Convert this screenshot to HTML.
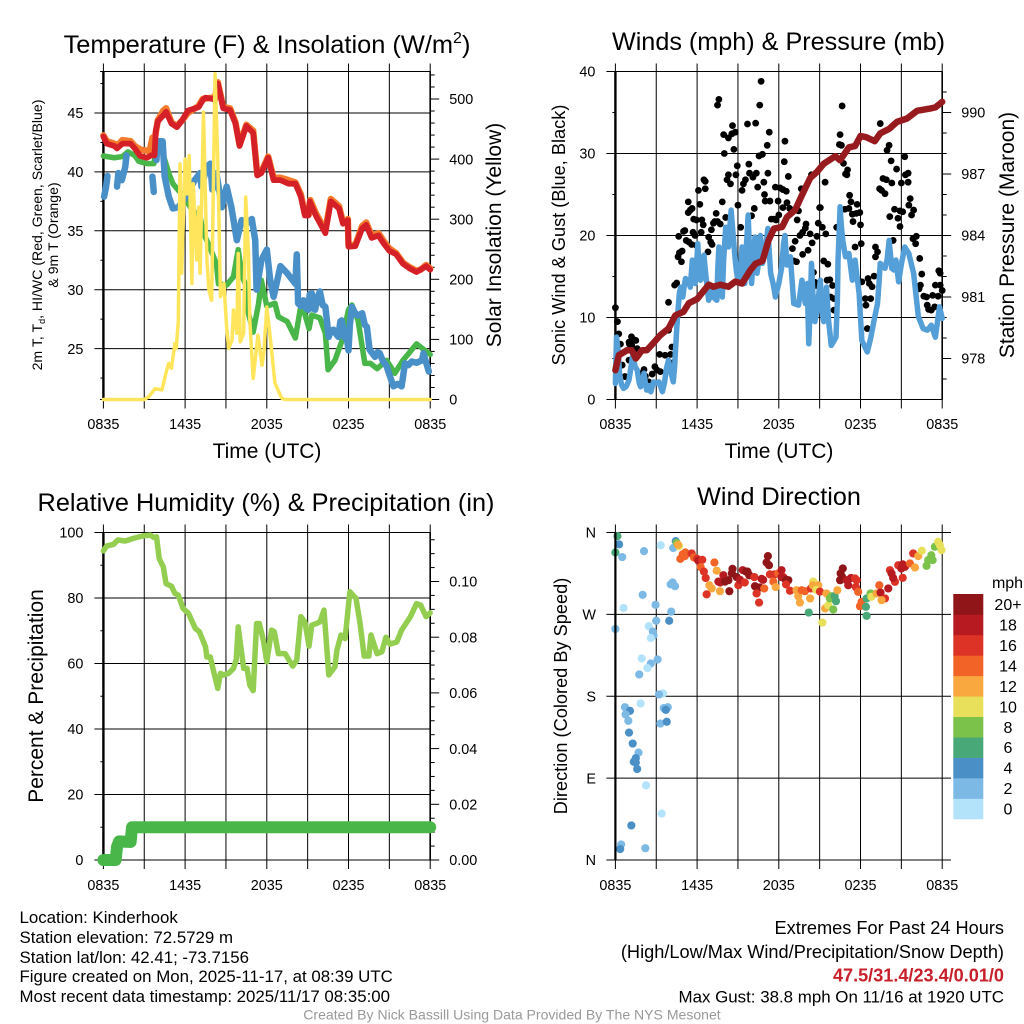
<!DOCTYPE html>
<html lang="en">
<head>
<meta charset="utf-8">
<title>Kinderhook Mesonet Meteogram</title>
<style>
html,body{margin:0;padding:0;background:#fff;}
svg{display:block;}
text{font-family:"Liberation Sans",sans-serif;fill:#000;}
</style>
</head>
<body>
<svg id="chart" xmlns="http://www.w3.org/2000/svg" width="1024" height="1024" viewBox="0 0 1024 1024">
<rect width="1024" height="1024" fill="#fff"/>
<text x="267" y="53" font-size="25.4" text-anchor="middle">Temperature (F) &amp; Insolation (W/m<tspan font-size="16" dy="-10">2</tspan><tspan dy="10">)</tspan></text>
<text x="778.5" y="50" font-size="25.2" text-anchor="middle">Winds (mph) &amp; Pressure (mb)</text>
<text x="266" y="511" font-size="25.3" text-anchor="middle">Relative Humidity (%) &amp; Precipitation (in)</text>
<text x="779" y="505" font-size="25.2" text-anchor="middle">Wind Direction</text>
<text x="267" y="458" font-size="21" text-anchor="middle">Time (UTC)</text>
<text x="779" y="458" font-size="21" text-anchor="middle">Time (UTC)</text>
<text transform="translate(42,235) rotate(-90)" font-size="14.1" text-anchor="middle">2m T, T<tspan font-size="9" dy="3">d</tspan><tspan dy="-3">, HI/WC (Red, Green, Scarlet/Blue)</tspan></text>
<text transform="translate(58,235) rotate(-90)" font-size="14.1" text-anchor="middle">&amp; 9m T (Orange)</text>
<text transform="translate(501,235) rotate(-90)" font-size="21" text-anchor="middle">Solar Insolation (Yellow)</text>
<text transform="translate(565,235) rotate(-90)" font-size="18.2" text-anchor="middle">Sonic Wind &amp; Gust (Blue, Black)</text>
<text transform="translate(1014,235) rotate(-90)" font-size="21" text-anchor="middle">Station Pressure (Maroon)</text>
<text transform="translate(43,696) rotate(-90)" font-size="21" text-anchor="middle">Percent &amp; Precipitation</text>
<text transform="translate(567,696) rotate(-90)" font-size="18.2" text-anchor="middle">Direction (Colored By Speed)</text>
<g font-size="16.85">
<text x="19.5" y="923">Location: Kinderhook</text>
<text x="19.5" y="943">Station elevation: 72.5729 m</text>
<text x="19.5" y="963">Station lat/lon: 42.41; -73.7156</text>
<text x="19.5" y="982">Figure created on Mon, 2025-11-17, at 08:39 UTC</text>
<text x="19.5" y="1002">Most recent data timestamp: 2025/11/17 08:35:00</text>
</g>
<g text-anchor="end">
<text x="1004" y="934" font-size="18.2">Extremes For Past 24 Hours</text>
<text x="1004" y="958" font-size="18.2">(High/Low/Max Wind/Precipitation/Snow Depth)</text>
<text x="1004" y="981.5" font-size="18.1" font-weight="bold" style="fill:#c8202a">47.5/31.4/23.4/0.01/0</text>
<text x="1004" y="1002.5" font-size="16.9">Max Gust: 38.8 mph On 11/16 at 1920 UTC</text>
</g>
<text x="512" y="1019.5" font-size="14.05" text-anchor="middle" style="fill:#999">Created By Nick Bassill Using Data Provided By The NYS Mesonet</text>
</svg>
<script>
const timeTicks = [0, 3, 6, 9, 12, 15, 18, 21, 24];
const timeLabels = ["0835", "", "1435", "", "2035", "", "0235", "", "0835"];

const tempTicks = [25, 30, 35, 40, 45];
const tempMinorTicks = [22.5, 27.5, 32.5, 37.5, 42.5, 47.5];
const solarTicks = [0, 100, 200, 300, 400, 500];
const solarMinorTicks = [20, 40, 60, 80, 120, 140, 160, 180, 220, 240, 260, 280, 320, 340, 360, 380, 420, 440, 460, 480, 520, 540];
const windTicks = [0, 10, 20, 30, 40];
const windMinorTicks = [5, 15, 25, 35];
const pressureTicks = [978, 981, 984, 987, 990];
const pressureMinorTicks = [977, 979, 980, 982, 983, 985, 986, 988, 989, 991];
const humidityTicks = [0, 20, 40, 60, 80, 100];
const humidityMinorTicks = [10, 30, 50, 70, 90];
const precipTicks = [0, 0.02, 0.04, 0.06, 0.08, 0.10];
const precipTickLabels = ["0.00", "0.02", "0.04", "0.06", "0.08", "0.10"];
const precipMinorTicks = [0.005, 0.01, 0.015, 0.025, 0.03, 0.035, 0.045, 0.05, 0.055, 0.065, 0.07, 0.075, 0.085, 0.09, 0.095, 0.105, 0.11, 0.115];
const directionTicks = [360, 270, 180, 90, 0];
const directionLabels = ["N", "W", "S", "E", "N"];
const legendLabels = ["0", "2", "4", "6", "8", "10", "12", "14", "16", "18", "20+"];
const legendColors = ["#b3e3fa", "#7db9e5", "#4a90c6", "#49a878", "#7ac24a", "#e8e05a", "#f8a83f", "#f26328", "#dd3327", "#b71b21", "#8f1518"];

const redTimes = [0,.25,.8,1,1.4,2,2.3,2.7,3.2,3.5,3.75,3.85,4,4.4,4.6,5,5.4,5.8,6.2,7,7.3,7.5,8,8.2,8.4,8.8,9.3,9.7,10,10.5,11,11.3,11.6,12.1,12.5,13,13.6,14.1,14.5,14.8,15.05,15.15,15.6,16.3,16.7,17.3,17.6,17.95,18,18.5,19,19.3,19.7,20.2,20.6,21,21.5,22,22.5,23,23.3,23.7,24];
const redValues = [43,42.4,42.2,42,42.4,42.4,42,41.35,41.2,41.4,41.4,43.5,44.3,44.8,45.1,44.1,43.8,44.4,45.2,45.5,46.1,46.3,46.2,46.1,47.5,45.4,45.25,44.1,42.2,43.9,43.3,39.7,39.9,41.2,39.3,39.3,39,39,37.9,36.3,36.3,37.5,36.3,34.8,37.5,36.9,35.6,35.9,33.65,33.7,35.2,35.5,34.4,34.6,33.9,33.3,33,32.2,31.8,31.5,31.7,32,31.7];
const orangeTimes = [0,.25,.8,1,1.4,2,2.3,2.7,3.2,3.4,3.6,3.8,4,4.4,4.6,5,5.4,5.8,6.2,7,7.3,8,8.2,8.4,8.8,9.3,9.7,10,10.5,11,11.3,11.6,12.1,12.5,13,13.6,14.1,14.5,14.8,15.1,15.2,15.6,16.3,16.7,17.3,17.6,17.95,18,18.5,19,19.3,19.7,20.2,20.6,21,21.5,22,22.5,23,23.3,23.7,24];
const orangeValues = [43.1,42.6,42.4,42.2,42.7,42.6,42.2,41.9,41.8,41.8,42.9,43,44.4,45.2,45.4,44.2,43.9,44.4,45,45.6,46.2,46.3,46.3,47.6,45.5,45.4,44.2,42.3,44,43.5,39.8,40,41.3,39.5,39.5,39.3,39.1,38.1,36.4,36.4,37.6,36.5,35,37.7,37.1,35.7,36,33.8,33.8,35.4,35.7,34.6,34.8,34.1,33.5,33.1,32.3,31.9,31.6,31.7,32.1,31.8];
const dewTimes = [0,.8,1.4,1.8,2.3,2.6,3.2,3.7,4,4.3,4.8,5.1,5.9,6.5,7.1,7.35,7.8,8.3,8.45,9.06,9.55,9.9,10.2,10.5,10.65,11,11.4,11.6,12,12.6,12.85,13.5,14.1,14.45,14.7,15.1,15.3,15.9,16.3,16.5,17,17.5,18,18.25,18.7,19.2,19.6,20.1,20.8,21.4,22,23,24];
const dewValues = [41.35,41.2,41.3,41.7,41.4,40.9,40.7,40.7,42.6,41.8,39.9,39,37.9,36.8,36.2,34.8,33.65,32.2,30.5,30.4,31.1,33.4,31.1,30.3,28,26.4,28.85,30.8,28.6,28.85,27.7,27.3,25.9,28.3,28.3,26.7,27.85,27.6,26.3,23.2,24,25.6,28.3,28.7,27.4,23.75,23.75,23.3,24,22.9,24,25.4,24.5];
const chillTimes = [.05,.2,.3,.6,1,1.1,1.35,1.6,1.7,2.5,3.6,3.7,3.8,3.9,3.95,4.35,4.5,4.8,5.1,5.5,5.9,6.25,6.7,7.1,7.2,7.6,7.85,8,8.3,8.7,9.05,9.4,9.8,10.15,10.5,10.9,11.15,11.25,11.6,12,12.25,12.5,13,13.5,14.1,14.2,14.3,14.5,14.7,14.9,15.05,15.15,15.3,15.4,15.55,15.7,15.9,16.1,16.3,16.45,16.55,16.7,16.9,17.05,17.25,17.4,17.5,17.7,17.9,18,18.1,18.25,18.5,18.7,19,19.2,19.35,19.55,19.95,20.15,20.3,20.5,20.8,21,21.3,21.6,21.9,22.15,22.4,22.65,23,23.4,23.5,23.9];
const chillValues = [37.9,38.75,39.65,null,38.75,39.9,39.3,40.4,41.4,null,39.6,38.3,null,41,42.6,42.6,39.6,37.9,36.9,37,37.6,38.2,39.3,39.9,38.75,40.45,40.7,38.5,39.9,37,38.75,37,34.2,35.9,35.6,36,34.2,30,32.5,33.4,30.8,29.4,32,31.4,30.5,33,28.85,28.6,29.1,28.4,28.3,29.6,29.7,28.4,28.3,29.3,29.85,28.7,28.55,27,26,26.5,26.6,26.3,26,27.3,27.4,26,25.7,24.85,27,28.55,28,27.8,28,27,26.85,24.9,24.3,24.7,24.6,24,23.5,22.8,21.8,22,21.8,23.75,23.6,23.9,23.8,24,24.6,23.05];
const solarTimes = [0,3,3.3,3.8,4.3,4.65,4.8,5,5.25,5.35,5.5,5.63,5.75,6,6.15,6.3,6.5,6.6,6.85,7,7.1,7.35,7.6,7.75,7.95,8.2,8.4,8.6,8.85,9.05,9.2,9.45,9.55,9.8,9.9,10.05,10.3,10.45,10.65,10.75,11,11.35,11.65,11.8,12,12.25,12.6,13.1,13.35,24];
const solarValues = [0,0,4,18,16,49,60,52,93,85,130,392,210,400,342,406,193,359,232,320,210,478,232,182,165,542,398,171,193,121,85,99,149,110,243,96,110,337,243,132,35,107,57,82,154,104,27,2,0,0];

const gustTimes = [0,.15,.25,.37,.5,.7,1,1.03,1.18,1.35,1.5,1,1.2,1.6,2.1,1.95,2.2,2.45,2.7,2.9,3.05,3.3,3.25,3.65,4.05,4.15,4.25,3.9,3.9,4.35,4.5,4.6,4.9,4.7,4.85,4.65,5,5.1,5.2,5.4,5.6,5.35,5.35,5.5,5.63,5.75,5.95,5.7,5.85,5.95,6.1,6.2,6.3,6.35,6.45,6.5,6.6,6.6,6.8,6.85,7,7.1,7.05,7.2,7.4,7.3,7.5,7.7,7.5,7.6,7.85,8.1,7.95,8,8.2,8.3,8.3,8.45,8.55,8.6,8.8,8.7,8.85,8.95,9,9.2,9.3,9.4,9.55,9.7,9.8,9.85,10.1,10,10.2,10.35,10.3,10.45,10.55,10.8,10.6,10.7,10.9,10.95,11,11.15,11.2,11.3,11.35,11.45,11.65,11.8,11.75,11.95,12,12.1,12.3,12.3,12.45,12.4,12.55,12.6,12.7,12.8,13,13.1,13.3,13.2,13.35,13.45,13.55,13.65,13.75,13.75,13.95,14,14.15,14.3,14.4,14.45,14.55,14.65,14.75,14.8,14.9,15,15.05,15.2,15.4,15.45,15.3,15.6,15.55,15.75,15.8,15.95,16.05,16.05,16.25,16.45,16.5,16.6,16.65,16.75,16.9,17,17.05,16.85,17.15,17.2,17.3,17.45,17.4,17.7,17.75,17.95,18,17.6,18.05,18.1,18.35,18.4,18.5,18.55,18.65,18.75,18.85,19,19.1,19.1,19.25,19.45,19.4,19.55,19.65,19.8,19.9,19.95,20.1,20.25,20.15,20.3,20.4,20.5,20.65,20.75,20.9,20.9,21,21.1,21.25,21.3,21.5,21.5,21.55,21.65,21.75,21.9,21.85,22.05,22.1,22.35,22.3,22.4,22.5,22.65,22.85,22.9,23,23.2,23.3,23.45,23.5,23.7,23.75,23.85,23.85,24];
const gustValues = [11.2,9.5,8,6.75,4.2,2.8,4.8,6.75,7.65,7.3,7.2,7,6.6,6.2,3.65,3.2,2.85,2.15,3.1,4,3.6,3.4,5.5,5.4,5.5,6.4,4.5,8.45,11.85,13.95,14.2,17.4,18.1,17.9,16.8,19.9,20.5,20.6,19.4,19.2,18.9,24.1,22.8,23.1,23.3,22,21.9,20.4,20,18.8,25.5,23.8,20.4,21.9,21.3,26.8,26.6,25.7,18,19.8,19.2,18.9,20.7,21.5,22.7,21.7,21.7,21.4,35.9,36.6,24.1,22.2,32.3,30,26.8,27.4,31.9,26.3,32.4,33.4,32.6,30.5,27.4,28.5,23.7,21,25.5,26.3,26.8,33.6,28.7,27.6,27.1,22.4,23.3,27.6,33.7,25.9,29.7,29.9,35.9,38.8,26.5,25,24.2,31,27.6,32.6,24.2,22,22,21.9,25.9,24.2,22.5,25.8,25.6,23.4,31.5,29,25.4,24,27.2,23.3,18.4,16.9,16.8,19.3,21.9,23,20,25.7,20.4,17.7,20.9,21.4,18.2,20.2,27.4,19.1,15.5,14.3,13.9,19.9,21.5,23.4,23.4,21,26.5,20.2,16.9,16.5,14.55,14.6,12.5,13.9,12.3,10.9,21,31.1,32.3,31,35.8,28.8,27.5,27.4,28,23.2,23.3,24.9,24.1,21.7,22.6,22.7,23.8,22.8,21.3,18.6,19,14.35,12.3,11.5,8.65,14.75,14.15,12.3,13.75,15.05,18.6,17.4,18,33.65,25.7,25.5,26.95,25.1,26.8,30.4,31,29.1,22.3,26.4,19.4,23.2,28.1,22.1,23,21.1,26.4,22.9,29.6,27.4,27.6,26.5,23.7,24.5,22.5,23.1,19.6,19,19.9,17.2,13.5,13.95,15.3,12.6,12.5,11.5,11,10.9,12.7,11.3,13.95,12.6,15.7,15.4,13.95,13.3];
const sonicTimes = [0,.08,.2,.3,.45,.6,.8,1,1.15,1.25,1.35,1.45,1.6,1.75,1.85,2,2.1,2.2,2.3,2.45,2.6,2.8,3,3.2,3.45,3.6,3.75,3.9,4.05,4.25,4.35,4.4,4.5,4.6,4.7,4.8,4.95,5.05,5.15,5.35,5.5,5.58,5.65,5.75,5.85,5.95,6.05,6.15,6.25,6.4,6.5,6.65,6.85,7.1,7.25,7.45,7.52,7.6,7.7,7.85,7.95,8.1,8.2,8.3,8.4,8.5,8.65,8.8,8.9,9.05,9.2,9.3,9.4,9.5,9.6,9.75,9.85,10,10.12,10.25,10.4,10.55,10.65,10.8,11,11.2,11.3,11.4,11.6,11.75,12,12.2,12.35,12.45,12.6,12.85,13,13.1,13.45,13.7,13.95,14.1,14.15,14.2,14.3,14.4,14.5,14.65,14.8,15.05,15.15,15.3,15.4,15.5,15.65,15.85,16,16.2,16.3,16.35,16.45,16.5,16.6,16.7,16.9,17.15,17.4,17.6,17.9,18,18.1,18.3,18.5,18.75,19,19.25,19.35,19.45,19.8,19.95,20.1,20.3,20.45,20.6,20.8,21,21.25,21.55,21.9,22.25,22.6,22.9,23.2,23.5,23.8,24];
const sonicValues = [1.95,7.6,6,3.2,1.8,1.35,1.6,2.4,4,5.2,4.8,4,3.6,2,1.55,2.2,3.2,2,1.15,1.7,.95,2.15,2,2.15,.95,2,3.8,4.8,3.5,2.15,4,5.6,8.5,10.9,13,13.7,12.5,13.8,14.75,14.5,13.7,15.5,17,15,14.15,16,19,16,14.55,15,17.6,15,12.1,13.3,12.4,12.1,16,18.6,15,12.5,17,21,19.5,18.6,21,23.1,20,17,15.5,14.15,16,18.6,16,14.15,18,22.5,18,14.15,17,19.8,15.4,17,20,16.6,18,20.85,18,15.4,14,12.5,14.15,16,19,20,16.4,17.4,14,11.7,11.5,14.55,11.7,14.15,10,6.8,11,16.6,13,9.5,10.9,14.55,11,9.5,11,13.7,9.7,6.6,7,7.6,12,17,21,23.5,21,19.4,17.4,17.8,14.55,17,12.9,10,7.2,6.5,5.8,7.5,9.7,11.7,14,16.6,16,17,19.4,16,15.8,17,14.35,16.5,18.6,17.8,15.4,10.1,8.65,8.45,9.05,7.6,11.3,9.9];
const pressureTimes = [0,.25,.85,1.2,1.5,1.95,2.3,2.8,3.3,3.9,4.4,5,5.4,6,6.85,7.2,7.7,8.3,8.8,9.3,9.9,10.3,10.8,11.25,11.65,12.25,12.6,13.2,13.7,14.3,14.8,15.3,16.15,16.5,17.15,17.6,18,18.4,19.05,19.45,20.1,20.7,21.4,22.15,23.15,23.5,24];
const pressureValues = [977.43,978.16,978.4,978.4,978,978.4,978.4,978.76,979.14,979.46,980.1,980.28,980.7,980.9,981.6,981.5,981.6,981.5,981.75,981.66,982.3,982.63,982.76,983.77,984.34,984.42,984.9,985.24,985.97,986.8,987.1,987.5,987.87,987.67,988.3,988.36,988.85,988.8,988.6,988.98,989.2,989.55,989.7,990.08,990.2,990.25,990.52];

const humidityTimes = [0,.25,.75,1.05,1.6,2.2,2.95,3.45,3.7,3.9,4.1,4.4,4.6,5,5.25,5.5,5.85,6.25,6.75,7.05,7.5,7.6,7.85,8.1,8.4,8.6,8.8,9.2,9.55,9.75,9.9,10.3,10.55,10.75,11,11.25,11.45,11.75,12,12.35,12.55,12.85,13.35,13.9,14.2,14.5,14.8,15.1,15.3,15.65,15.9,16.2,16.55,17,17.15,17.45,17.75,18.1,18.55,18.85,19.15,19.5,19.65,20.1,20.45,20.75,21.05,21.55,21.9,22.55,23,23.3,23.7,24];
const humidityValues = [94.4,95.9,96.4,97.7,97.4,98.2,99,99.2,98.5,98.7,92,89.5,84.4,83.6,81.4,80.9,76.8,75.3,70.7,69.7,65.1,62,62,57.5,52.4,57,56.5,57,58.5,61,71.2,58.5,58.5,53.4,51.7,72.2,72.2,67.1,60.5,70.2,69.7,63,63,59.2,61,74.3,72.7,65.3,71.7,72.2,72.7,76.3,56.5,59,64.1,68.7,67.6,81.9,79.9,72.2,62.3,62.3,68.7,63,63.6,68,65.9,66.6,70.2,74.3,78.3,77.8,74.3,75.5];
const precipTimes = [0,.9,1,1.15,2,2.1,24];
const precipValues = [0,0,.004,.0057,.0055,.01,.01];

const directionTimes = [.15,.27,0,.5,2.1,3.33,4.25,4.43,4.5,4.67,
.6,2,2.95,4.1,3.95,3,0,2.45,2.75,2.8,
2.6,1.93,3.1,2.6,2.35,1.75,3.5,3.2,1.85,.7,
3.85,3.55,1.07,3.7,.75,.95,3.3,3.77,1,1.27,
1.7,1.5,1.35,1.5,1.6,2.25,3.4,1.17,.42,.35,
2.2,4.06,4.2,4.38,4.6,4.77,4.94,5.14,5.1,5.6,
5.77,6,6.1,6.38,6.26,6.5,6.63,6.9,7.07,6.7,
7.27,7.44,7.68,7.56,7.7,7.93,8.05,8.3,8.37,8.6,
8.55,8.9,9.03,9.15,9.35,9.5,9.6,9.7,9.83,10.2,
10.25,10.6,10.37,10.55,10.74,10.85,10.93,11.2,11.1,11.28,
11.35,11.7,11.6,11.77,11.96,12.2,12.33,12.2,12.45,12.53,
12.7,12.53,12.82,13.3,13.43,13.55,13.68,13.92,14.3,14.36,
14.2,14.53,14.5,14.9,14.75,15.02,15.5,15.2,15.4,15.63,
15.75,15.88,16.1,16.2,16,16.3,16.5,16.54,16.7,16.65,
16.98,17.1,17.3,17.6,17.72,17.66,17.83,18.08,17.96,18.4,
18.45,18.45,18.74,18.8,19.18,19.38,19.47,19.8,19.55,20.04,
20.16,20.28,20.53,20.4,20.77,21,21.1,21.26,21.1,21.63,
21.87,22,22.24,22.5,22.85,22.97,23.3,23.2,23.46,23.7,
23.83,23.95];
const directionDegrees = [356,347,338,333,339.5,346,343,350.5,348.6,345,
277,291.5,280.5,273,263,263,254,257,251,247,
244,221.5,220.4,216,211,204,183,182,172,168,
168,167,164,165,160,153,150,152,140,128,
118,112,108,107,100,82,51,38,17,12,
13,303,305,301,346.4,331,336,338,334,337,
332.5,331,329,330,322,317,310,302,298.5,292,
327,318,295.5,306,305,313,306,307.6,295.5,320,
315,311,302,308,318.6,305,317,317,313,311,
301,299.6,293,283,309,308,298.5,334,327,324,
314,314,306,300,315,318.6,311,311,309,307.6,
307.6,303,296,296.6,290,283,296.6,295.5,287.5,298.5,
272,306,302,302,297,295,293,261,276.5,280,
287.5,290,290,284.5,275.4,296.6,307.6,315,320.4,311,
307.6,302,310,309.4,307.6,300,294.8,283.8,279,278.3,
268.4,287.5,293,289.3,293,302,294,287.5,285.6,298.5,
318.6,315,305.8,310,324,320.4,325,322.3,310.2,326,
337,321.5,334,339.9,323.4,329.6,329.6,335,344.3,349.7,
346,340.6];
const directionSpeeds = [7,5,7,3,3,1,3,5,9,11,
1,3,3,3,5,3,3,1,3,3,
1,1,3,3,1,3,1,3,1,3,
3,3,5,5,3,3,3,5,5,5,
3,5,5,5,5,1,1,5,3,5,
3,3,3,3,13,15,15,15,15,17,
15,17,19,17,15,17,17,13,13,17,
15,13,13,19,19,19,22,22,22,22,
22,22,17,19,19,17,22,22,22,17,
22,22,17,17,19,19,15,22,22,22,
17,17,15,13,15,19,17,19,19,22,
22,17,17,13,13,13,15,15,13,17,
7,11,13,13,11,17,13,11,13,11,
9,9,7,7,9,13,22,22,22,22,
19,19,19,17,17,17,15,15,15,7,
7,7,9,11,13,15,19,17,13,19,
17,19,17,19,17,19,19,19,17,15,
17,13,13,11,9,9,9,9,9,11,
11,11];

const SVG_NS = "http://www.w3.org/2000/svg";
const svg = document.getElementById("chart");
const TICK_FONT = 14.4;

function linear(d0, d1, r0, r1) {
  return function (v) { return r0 + (v - d0) * (r1 - r0) / (d1 - d0); };
}
function make(tag, attrs) {
  const el = document.createElementNS(SVG_NS, tag);
  Object.keys(attrs).forEach(function (k) { el.setAttribute(k, attrs[k]); });
  svg.appendChild(el);
  return el;
}
function rule(name, x1, y1, x2, y2, width) {
  const el = make("line", { x1: x1, y1: y1, x2: x2, y2: y2, stroke: "#000", "stroke-width": width });
  
  
  return el;
}
function label(name, x, y, anchor, str, size) {
  const el = make("text", { x: x, y: y, "text-anchor": anchor, "font-size": size || TICK_FONT });
  el.textContent = str;
  
  
  return el;
}
function series(name, times, values, xFn, yFn, color, width, cap) {
  let points = [];
  const flush = function () {
    if (points.length) {
      const el = make("polyline", {
        points: points.join(" "), fill: "none", stroke: color, "stroke-width": width,
        "stroke-linejoin": "round", "stroke-linecap": cap || "round"
      });
      
      
    }
    points = [];
  };
  for (let i = 0; i < times.length; i++) {
    if (values[i] === null) { flush(); continue; }
    points.push(xFn(times[i]).toFixed(2) + "," + yFn(values[i]).toFixed(2));
  }
  flush();
}
function frame(prefix, x, yTop, yBottom, showTimeLabelsY) {
  timeTicks.forEach(function (t, i) {
    rule(prefix + "-time-gridline", x(t), yTop - 8, x(t), yBottom + 9, 1);
    if (timeLabels[i]) {
      label(prefix + "-time-label", x(t), showTimeLabelsY, "middle", timeLabels[i]);
    }
  });
}
function leftAxis(prefix, x0, x1, y, ticks, minor, labels) {
  ticks.forEach(function (v, i) {
    rule(prefix + "-left-gridline", x0 - 9, y(v), x1, y(v), 1);
    label(prefix + "-left-label", x0 - 20, y(v) + 5.2, "end", labels ? labels[i] : String(v));
  });
  minor.forEach(function (v) {
    rule(prefix + "-left-minor-tick", x0 - 3, y(v), x0, y(v), 1);
  });
}
function rightAxis(prefix, x1, y, ticks, minor, labels) {
  ticks.forEach(function (v, i) {
    rule(prefix + "-right-tick", x1, y(v), x1 + 9, y(v), 1);
    label(prefix + "-right-label", x1 + 19, y(v) + 5.2, "start", labels ? labels[i] : String(v));
  });
  minor.forEach(function (v) {
    rule(prefix + "-right-minor-tick", x1, y(v), x1 + 4.5, y(v), 1);
  });
}

/* Panel 1: temperature and insolation */
const tX = linear(0, 24, 103.4, 430.2);
const tempY = linear(45, 25, 113, 348.6);
const solarY = linear(0, 500, 399.5, 99);
frame("temperature", tX, 71.5, 399.5, 429);
rule("temperature-top-border", 100, 71.5, 430.2, 71.5, 1);
rule("temperature-bottom-border", 100, 399.5, 430.2, 399.5, 1);
leftAxis("temperature", 103.4, 430.2, tempY, tempTicks, tempMinorTicks);
rightAxis("solar", 430.2, solarY, solarTicks, solarMinorTicks);
rule("temperature-left-axis", 103.4, 71.5, 103.4, 399.5, 2.4);
rule("temperature-right-axis", 430.2, 71.5, 430.2, 399.5, 1.6);
series("dewpoint-line", dewTimes, dewValues, tX, tempY, "#48b648", 5.5);
series("wind-chill-line", chillTimes, chillValues, tX, tempY, "#4a90c8", 6.5);
series("temperature-9m-line", orangeTimes, orangeValues, tX, tempY, "#f47b2e", 6.5);
series("temperature-2m-line", redTimes, redValues, tX, tempY, "#d62027", 5.8);
series("solar-insolation-line", solarTimes, solarValues, tX, solarY, "#ffe55c", 3.5);

/* Panel 2: winds and pressure */
const wX = linear(0, 24, 615.4, 942.2);
const windY = linear(0, 40, 399.5, 71.5);
const pressureY = linear(976, 992, 399.5, 71.5);
frame("winds", wX, 71.5, 399.5, 429);
leftAxis("winds", 615.4, 942.2, windY, windTicks, windMinorTicks);
rightAxis("pressure", 942.2, pressureY, pressureTicks, pressureMinorTicks);
rule("winds-left-axis", 615.4, 71.5, 615.4, 399.5, 2.4);
rule("winds-right-axis", 942.2, 71.5, 942.2, 399.5, 1.6);
gustTimes.forEach(function (t, i) {
  const dot = make("circle", { cx: wX(t), cy: windY(gustValues[i]), r: 3.4, fill: "#000" });
  
  
});
series("sonic-wind-line", sonicTimes, sonicValues, wX, windY, "#559fd8", 5.5);
series("station-pressure-line", pressureTimes, pressureValues, wX, pressureY, "#971b1e", 6.5);

/* Panel 3: relative humidity and precipitation */
const rhY = linear(0, 100, 860, 532.5);
const precipAxisY = linear(0, 0.1, 860, 581.5);
const precipPlotY = function (v) { return rhY(v * 1000); };
frame("humidity", tX, 532.5, 860, 890);
leftAxis("humidity", 103.4, 430.2, rhY, humidityTicks, humidityMinorTicks);
rightAxis("precipitation", 430.2, precipAxisY, precipTicks, precipMinorTicks, precipTickLabels);
rule("humidity-left-axis", 103.4, 532.5, 103.4, 860, 2.4);
rule("humidity-right-axis", 430.2, 532.5, 430.2, 860, 1.6);
series("relative-humidity-line", humidityTimes, humidityValues, tX, rhY, "#93ce50", 5.5);
series("precipitation-line", precipTimes, precipValues, tX, precipPlotY, "#48b648", 12);

/* Panel 4: wind direction */
const dirY = linear(0, 360, 860, 532.5);
timeTicks.forEach(function (t, i) {
  rule("direction-time-gridline", wX(t), 524.5, wX(t), 869, 1);
  if (timeLabels[i]) {
    label("direction-time-label", wX(t), 890, "middle", timeLabels[i]);
  }
});
directionTicks.forEach(function (d, i) {
  rule("direction-gridline", 606.4, dirY(d), 951, dirY(d), 1);
  label("direction-label", 596, dirY(d) + 5.2, "end", directionLabels[i]);
});
const speedColor = function (s) { return legendColors[Math.min(10, Math.floor(s / 2))]; };
directionTimes.forEach(function (t, i) {
  const dot = make("circle", { cx: wX(t), cy: dirY(directionDegrees[i]), r: 4.1, fill: speedColor(directionSpeeds[i]) });
  
  
});
rule("direction-left-axis", 615.4, 532.5, 615.4, 860, 2.2);

/* Colour legend */
const legendY = linear(0, 11, 819, 594);
legendLabels.forEach(function (txt, i) {
  const box = make("rect", { x: 953.3, y: legendY(i + 1), width: 30, height: legendY(i) - legendY(i + 1) + 0.3, fill: legendColors[i] });
  
  
  label("legend-label", 1008, legendY(i + 0.5) + 5.8, "middle", txt, 16);
});
label("legend-title", 1007.5, 588, "middle", "mph", 16);
</script>
</body>
</html>
